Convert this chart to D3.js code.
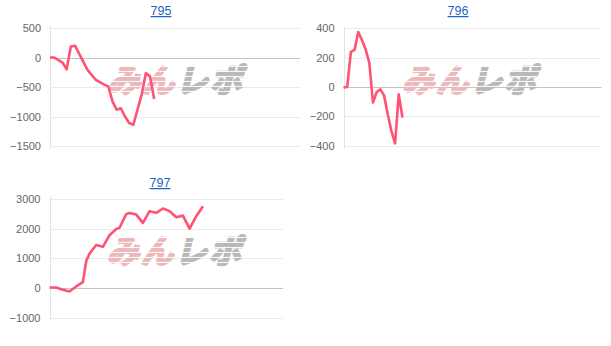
<!DOCTYPE html>
<html lang="ja">
<head>
<meta charset="UTF-8">
<title>795 796 797</title>
<script src="https://d3js.org/d3.v7.min.js"></script>
<style>
  body { margin: 0; background: #fff; }
  svg { display: block; font-family: "Liberation Sans", Arial, sans-serif; }
  .tick text { fill: #666; font-size: 11px; }
  .grid { stroke: #ebebeb; stroke-width: 1px; }
  .zero { stroke: #c4c4c4; stroke-width: 1px; }
  .yline { stroke: #e4e4e4; stroke-width: 1px; }
  .title { fill: #1a66c4; font-size: 12.5px; text-decoration: underline; }
  .line { fill: none; stroke: #ff5274; stroke-width: 2.6px; stroke-linejoin: round; }
</style>
</head>
<body>
<svg></svg>
<script>
const [width, height] = [611, 346]

// machine numbers
const titles = ['795', '796', '797']

// day index of each point, and the balance at that point
const days795 = [0, 1, 3, 4, 5, 6, 9, 11, 13, 14, 15, 16, 17, 18, 19, 20, 22, 23, 24, 25]
const vals795 = [0, 0, -85, -200, 187, 200, -210, -380, -460, -490, -745, -885, -860, -1000, -1110, -1140, -630, -265, -320, -705]

const days796 = [0, 1, 2, 3, 4, 5, 6, 7, 8, 9, 10, 11, 12, 13, 14, 15, 16]
const vals796 = [-4, 0, 240, 253, 375, 320, 257, 166, -106, -34, -16, -57, -186, -300, -384, -50, -209]

const days797 = [0, 2, 4, 6, 8, 10, 11, 12, 14, 16, 18, 20, 21, 23, 24, 26, 28, 30, 32, 34, 36, 38, 40, 42, 44, 46]
const vals797 = [20, 20, -57, -115, 54, 200, 900, 1160, 1450, 1390, 1780, 1990, 2030, 2490, 2530, 2475, 2195, 2590, 2535, 2680, 2590, 2385, 2440, 2000, 2420, 2755]

// y ticks per chart
const ticks795 = [-1500, -1000, -500, 0, 500]
const ticks796 = [-400, -200, 0, 200, 400]
const ticks797 = [-1000, 0, 1000, 2000, 3000]

// x domain length (days) per chart
const span795 = 60, span796 = 70, span797 = 70

const charts = [
  {title: titles[0], days: days795, vals: vals795, ticks: ticks795, span: span795,
   x0: 50, x1: 300, y0: 28, y1: 146, tx: 161, ty: 15, wx: 176, wy: 80},
  {title: titles[1], days: days796, vals: vals796, ticks: ticks796, span: span796,
   x0: 343.5, x1: 601.5, y0: 28.3, y1: 145.7, tx: 458, ty: 15, wx: 470, wy: 80},
  {title: titles[2], days: days797, vals: vals797, ticks: ticks797, span: span797,
   x0: 49.5, x1: 283, y0: 199, y1: 317.7, tx: 160, ty: 187, wx: 175, wy: 251},
]

const svg = d3.select('svg').attr('width', width).attr('height', height)

// striped fills for the watermark
const defs = svg.append('defs')
const stripe = (id, color) => {
  const p = defs.append('pattern').attr('id', id)
    .attr('width', 6).attr('height', 5).attr('patternUnits', 'userSpaceOnUse')
  p.append('rect').attr('width', 6).attr('height', 4).attr('fill', color)
}
stripe('pink', '#ebb9bc')
stripe('grey', '#b9b9b9')

charts.forEach(c => {
  const g = svg.append('g')
  const x = d3.scaleLinear().domain([0, c.span]).range([c.x0, c.x1])
  const y = d3.scaleLinear().domain(d3.extent(c.ticks)).range([c.y1, c.y0])

  g.append('text').attr('class', 'title')
    .attr('x', c.tx).attr('y', c.ty).attr('text-anchor', 'middle').text(c.title)

  g.selectAll('.grid').data(c.ticks).join('line')
    .attr('class', d => d === 0 ? 'zero' : 'grid')
    .attr('x1', c.x0).attr('x2', c.x1)
    .attr('y1', d => Math.round(y(d)) + 0.5).attr('y2', d => Math.round(y(d)) + 0.5)

  g.append('line').attr('class', 'yline')
    .attr('x1', Math.round(c.x0) + 0.5).attr('x2', Math.round(c.x0) + 0.5)
    .attr('y1', c.y0 - 2).attr('y2', c.y1 + 3)

  const axis = g.append('g').attr('transform', `translate(${c.x0 - 9},0)`)
    .call(d3.axisLeft(y).tickValues(c.ticks).tickFormat(d3.format('d')).tickSize(0).tickPadding(0))
  axis.select('.domain').remove()

  // watermark
  const wm = g.append('text')
    .attr('transform', `translate(${c.wx},${c.wy + 12}) skewX(-14)`)
    .attr('text-anchor', 'middle')
    .style('font-family', '"Noto Sans CJK JP", sans-serif')
    .style('font-weight', 700).style('font-size', '32px').style('letter-spacing', '2px')
    .style('stroke-width', '2.6px').style('stroke-linejoin', 'round')
  wm.append('tspan').attr('fill', 'url(#pink)').attr('stroke', 'url(#pink)').text('みん')
  wm.append('tspan').attr('fill', 'url(#grey)').attr('stroke', 'url(#grey)').text('レポ')

  g.append('path').attr('class', 'line')
    .attr('d', d3.line().x((d, i) => x(c.days[i])).y(d => y(d))(c.vals))
})
</script>
</body>
</html>
